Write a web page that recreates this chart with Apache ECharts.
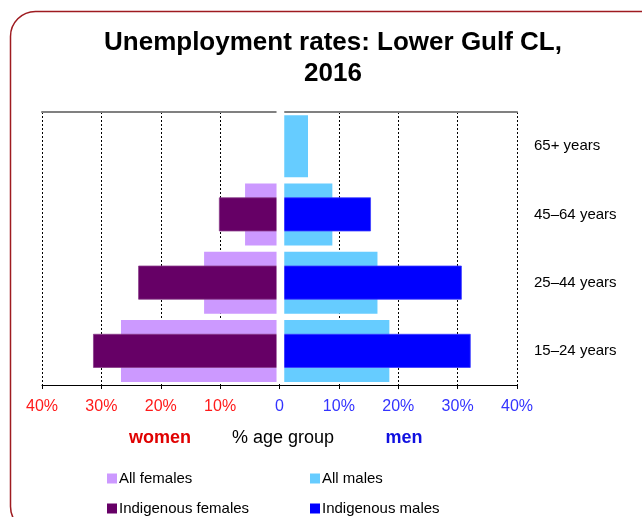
<!DOCTYPE html>
<html>
<head>
<meta charset="utf-8">
<script src="https://cdn.jsdelivr.net/npm/echarts@6/dist/echarts.min.js"></script>
<style>
    html, body {
        margin: 0;
        padding: 0;
        background: #fff;
    }
    #chart {
        width: 642px;
        height: 517px;
    }
</style>
</head>
<body>
<div id="chart"></div>
<script>
// age groups, bottom to top
const ageGroups = ['15–24 years', '25–44 years', '45–64 years', '65+ years']
// unemployment rate, % (women as negative so they go left)
const allFemales = [-26.7, -12.7, -5.8, null]
const indigenousFemales = [-31.4, -23.8, -10.2, null]
const allMales = [18.5, 16.5, 8.9, 4.8]
const indigenousMales = [32.2, 30.7, 15.4, null]
const xTicks = [-40, -30, -20, -10, 0, 10, 20, 30, 40]

// white strip between the two halves
const GAP = [-0.5, 0.8]
const FONT = 'Liberation Sans, Arial, sans-serif'

const chart = echarts.init(document.getElementById('chart'))

// one legend per entry so they sit in a 2x2 block
const makeLegend = (name, left, top) => ({
    data: [name],
    left: left,
    top: top,
    icon: 'rect',
    itemWidth: 10,
    itemHeight: 10,
    itemStyle: { borderWidth: 0 },
    textStyle: { fontSize: 15, color: '#000', fontFamily: FONT, padding: [0, 0, 0, -3] }
})

const option = {
    animation: false,
    textStyle: { fontFamily: FONT },
    grid: { left: 42, right: 125, top: 112, bottom: 132 },
    graphic: [
        {
            type: 'rect',
            shape: { x: 10.5, y: 11.5, width: 660, height: 520, r: 25 },
            style: { fill: 'none', stroke: '#9E1B20', lineWidth: 1.5 }
        },
        {
            type: 'text', x: 333, y: 43,
            style: { text: 'Unemployment rates: Lower Gulf CL,', font: 'bold 26px ' + FONT, fill: '#000', textAlign: 'center', textVerticalAlign: 'middle' }
        },
        {
            type: 'text', x: 333, y: 74,
            style: { text: '2016', font: 'bold 26px ' + FONT, fill: '#000', textAlign: 'center', textVerticalAlign: 'middle' }
        },
        {
            type: 'text', x: 160, y: 438,
            style: { text: 'women', font: 'bold 18px ' + FONT, fill: '#E00000', textAlign: 'center', textVerticalAlign: 'middle' }
        },
        {
            type: 'text', x: 283, y: 438,
            style: { text: '% age group', font: '18px ' + FONT, fill: '#000', textAlign: 'center', textVerticalAlign: 'middle' }
        },
        {
            type: 'text', x: 404, y: 438,
            style: { text: 'men', font: 'bold 18px ' + FONT, fill: '#1010E0', textAlign: 'center', textVerticalAlign: 'middle' }
        }
    ],
    legend: [
        makeLegend('All females', 102, 466),
        makeLegend('Indigenous females', 102, 496),
        makeLegend('All males', 305, 466),
        makeLegend('Indigenous males', 305, 496)
    ],
    xAxis: [
        {
            type: 'value',
            min: xTicks[0],
            max: xTicks[xTicks.length - 1],
            interval: 10,
            axisLine: { show: true, lineStyle: { color: '#000', width: 1 } },
            axisTick: { show: true, length: 4, lineStyle: { color: '#000' } },
            axisLabel: {
                margin: 14,
                fontSize: 16,
                fontFamily: FONT,
                formatter: (v) => v === 0 ? '0' : Math.abs(v) + '%',
                color: (v) => Number(v) < 0 ? '#FF1A1A' : '#3333FF'
            },
            splitLine: { show: true, lineStyle: { color: '#000', type: [2, 2], width: 1 } }
        },
        {
            type: 'value',
            position: 'top',
            min: xTicks[0],
            max: xTicks[xTicks.length - 1],
            interval: 10,
            axisLine: { show: true, lineStyle: { color: '#808080', width: 2 } },
            axisTick: { show: false },
            axisLabel: { show: false },
            splitLine: { show: false }
        }
    ],
    yAxis: [
        {
            type: 'category',
            position: 'right',
            data: ageGroups,
            axisLine: { show: false },
            axisTick: { show: false },
            axisLabel: { margin: 17, fontSize: 15, color: '#000', fontFamily: FONT, align: 'left' }
        },
        {
            type: 'category',
            show: false,
            data: ageGroups
        }
    ],
    series: [
        {
            name: 'All females', type: 'bar', stack: 'all', yAxisIndex: 0,
            barWidth: 62, data: allFemales,
            itemStyle: { color: '#CC99FF' }
        },
        {
            name: 'All males', type: 'bar', stack: 'all', yAxisIndex: 0,
            barWidth: 62, data: allMales,
            itemStyle: { color: '#66CCFF' }
        },
        {
            name: 'Indigenous females', type: 'bar', stack: 'ind', yAxisIndex: 1,
            barWidth: 34, data: indigenousFemales,
            itemStyle: { color: '#660066', borderColor: '#8A3C8A', borderWidth: 0.8 }
        },
        {
            name: 'Indigenous males', type: 'bar', stack: 'ind', yAxisIndex: 1,
            barWidth: 34, data: indigenousMales,
            itemStyle: { color: '#0000FF', borderColor: '#3C3CFF', borderWidth: 0.8 }
        },
        {
            type: 'custom',
            silent: true,
            z: 5,
            data: [[0, 0]],
            renderItem: (params, api) => {
                const cs = params.coordSys
                const x0 = api.coord([GAP[0], 0])[0]
                const x1 = api.coord([GAP[1], 0])[0]
                return {
                    type: 'rect',
                    shape: { x: x0, y: cs.y - 3, width: x1 - x0, height: cs.height + 2 },
                    style: { fill: '#fff' }
                }
            }
        }
    ]
}

chart.setOption(option)
</script>
</body>
</html>
